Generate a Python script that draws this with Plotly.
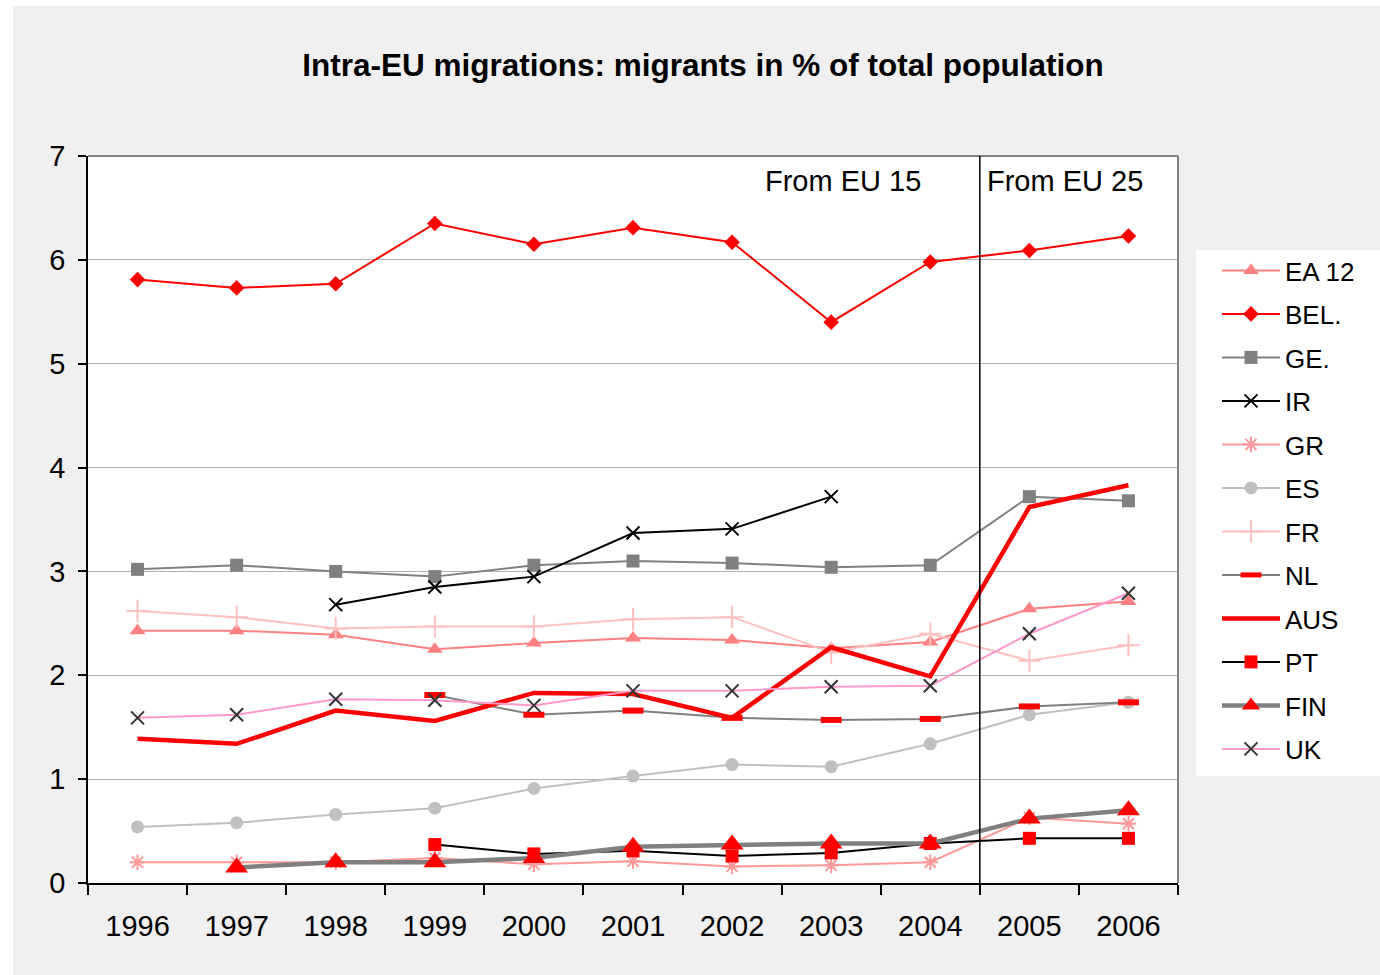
import plotly.graph_objects as go

# Years on the category axis
years = ["1996", "1997", "1998", "1999", "2000", "2001",
         "2002", "2003", "2004", "2005", "2006"]

# Migrants in % of total population, per country
ea12 = [2.43, 2.43, 2.39, 2.25, 2.31, 2.36, 2.34, 2.26, 2.32, 2.64, 2.71]
bel = [5.81, 5.73, 5.77, 6.35, 6.15, 6.31, 6.17, 5.40, 5.98, 6.09, 6.23]
ge = [3.02, 3.06, 3.00, 2.95, 3.06, 3.10, 3.08, 3.04, 3.06, 3.72, 3.68]
ir = [None, None, 2.68, 2.85, 2.95, 3.37, 3.41, 3.72, None, None, None]
gr = [0.20, 0.20, 0.20, 0.24, 0.18, 0.21, 0.16, 0.17, 0.20, 0.63, 0.57]
es = [0.54, 0.58, 0.66, 0.72, 0.91, 1.03, 1.14, 1.12, 1.34, 1.62, 1.74]
fr = [2.62, 2.56, 2.45, 2.47, 2.47, 2.54, 2.56, 2.22, 2.40, 2.14, 2.29]
nl = [None, None, None, 1.81, 1.62, 1.66, 1.59, 1.57, 1.58, 1.70, 1.74]
aus = [1.39, 1.34, 1.66, 1.56, 1.83, 1.82, 1.59, 2.27, 1.99, 3.62, 3.83]
pt = [None, None, None, 0.37, 0.28, 0.31, 0.26, 0.29, 0.38, 0.43, 0.43]
fin = [None, 0.15, 0.20, 0.20, 0.24, 0.35, 0.37, 0.38, 0.38, 0.62, 0.70]
uk = [1.59, 1.62, 1.77, 1.76, 1.71, 1.85, 1.85, 1.89, 1.90, 2.40, 2.79]

series = [
    # name, values, line colour, line width, marker symbol, marker size, marker colour, marker line width
    ("EA 12", ea12, "#ff8080", 2, "triangle-up", 14, "#ff8080", 0),
    ("BEL.", bel, "#ff0000", 2, "diamond", 12, "#ff0000", 0),
    ("GE.", ge, "#808080", 2, "square", 13, "#808080", 0),
    ("IR", ir, "#000000", 2, "x-thin-open", 13, "#000000", 2),
    ("GR", gr, "#ff9999", 2, "asterisk-open", 13, "#ff9999", 2),
    ("ES", es, "#c0c0c0", 2, "circle", 13, "#c0c0c0", 0),
    ("FR", fr, "#ffc0c0", 2, "cross-thin-open", 16, "#ffc0c0", 2),
    ("NL", nl, "#808080", 2, "line-ew-open", 15, "#ff0000", 6),
    ("AUS", aus, "#ff0000", 4.5, None, 0, "#ff0000", 0),
    ("PT", pt, "#000000", 2, "square", 13, "#ff0000", 0),
    ("FIN", fin, "#808080", 4.5, "triangle-up", 20, "#ff0000", 0),
    ("UK", uk, "#ff99cc", 2, "x-thin-open", 13, "#333333", 2),
]

fig = go.Figure()
for i, (name, vals, lc, lw, sym, ms, mc, mlw) in enumerate(series):
    if sym is None:
        mode = "lines"
        marker = None
    else:
        mode = "lines+markers"
        marker = dict(symbol=sym, size=ms, color=mc,
                      line=dict(color=mc, width=mlw))
    fig.add_trace(go.Scatter(
        x=years, y=vals, name=name, mode=mode,
        line=dict(color=lc, width=lw),
        marker=marker,
        legendgroup=f"g{i}",
        connectgaps=False,
    ))

# Figure geometry in pixels
W, H = 1380, 975
L, R, T, B = 88, 1178, 156, 883
pw, ph = R - L, B - T


def px_x(x):
    return (x - L) / pw


def px_y(y):
    return (B - y) / ph


shapes = [
    # white page margins around the grey chart area
    dict(type="rect", xref="paper", yref="paper", layer="below",
         x0=px_x(0), x1=px_x(13), y0=px_y(H), y1=px_y(0),
         fillcolor="white", line=dict(width=0)),
    dict(type="rect", xref="paper", yref="paper", layer="below",
         x0=px_x(0), x1=px_x(W), y0=px_y(6), y1=px_y(0),
         fillcolor="white", line=dict(width=0)),
    # white legend panel
    dict(type="rect", xref="paper", yref="paper", layer="below",
         x0=px_x(1196), x1=px_x(W), y0=px_y(776), y1=px_y(250),
         fillcolor="white", line=dict(width=0)),
    # grey frame on top and right of the plot area
    dict(type="line", xref="paper", yref="paper",
         x0=0, x1=1, y0=1, y1=1, line=dict(color="#808080", width=2)),
    dict(type="line", xref="paper", yref="paper",
         x0=1, x1=1, y0=0, y1=1, line=dict(color="#808080", width=2)),
    # separator between EU 15 and EU 25 periods
    dict(type="line", xref="x", yref="paper",
         x0=8.5, x1=8.5, y0=px_y(888), y1=1,
         line=dict(color="#000000", width=1.5)),
]

annotations = [
    dict(text="From EU 15", xref="paper", yref="paper",
         x=px_x(843), y=px_y(181), xanchor="center", yanchor="middle",
         showarrow=False, font=dict(size=29, color="#000000")),
    dict(text="From EU 25", xref="paper", yref="paper",
         x=px_x(1065), y=px_y(181), xanchor="center", yanchor="middle",
         showarrow=False, font=dict(size=29, color="#000000")),
]

fig.update_layout(
    width=W, height=H,
    margin=dict(l=L, r=W - R, t=T, b=H - B, pad=0),
    paper_bgcolor="#f0f0f0",
    plot_bgcolor="#ffffff",
    font=dict(family="Liberation Sans, Arial, sans-serif", color="#000000"),
    title=dict(
        text="<b>Intra-EU migrations: migrants in % of total population</b>",
        xref="paper", x=px_x(703), xanchor="center",
        yref="container", y=1 - 65 / H, yanchor="middle",
        font=dict(size=31.5, color="#000000"),
    ),
    xaxis=dict(
        type="category", range=[-0.5, 10.5],
        tickson="boundaries", ticks="outside", ticklen=10,
        tickwidth=1.5, tickcolor="#000000",
        showline=True, linecolor="#000000", linewidth=1.5,
        showgrid=False, zeroline=False,
        tickfont=dict(size=29),
        ticklabelstandoff=16,
    ),
    yaxis=dict(
        range=[0, 7], dtick=1, tick0=0,
        ticks="outside", ticklen=8, tickwidth=1.5, tickcolor="#000000",
        showline=True, linecolor="#000000", linewidth=1.5,
        showgrid=True, gridcolor="#b0b0b0", gridwidth=1,
        zeroline=False,
        tickfont=dict(size=29),
        ticklabelstandoff=7,
    ),
    legend=dict(
        x=px_x(1217), y=px_y(247), xanchor="left", yanchor="top",
        bgcolor="rgba(0,0,0,0)", borderwidth=0,
        font=dict(size=26),
        itemwidth=58,
        traceorder="grouped", tracegroupgap=6.7,
    ),
    showlegend=True,
    shapes=shapes,
    annotations=annotations,
)

fig.write_html("out.html")
